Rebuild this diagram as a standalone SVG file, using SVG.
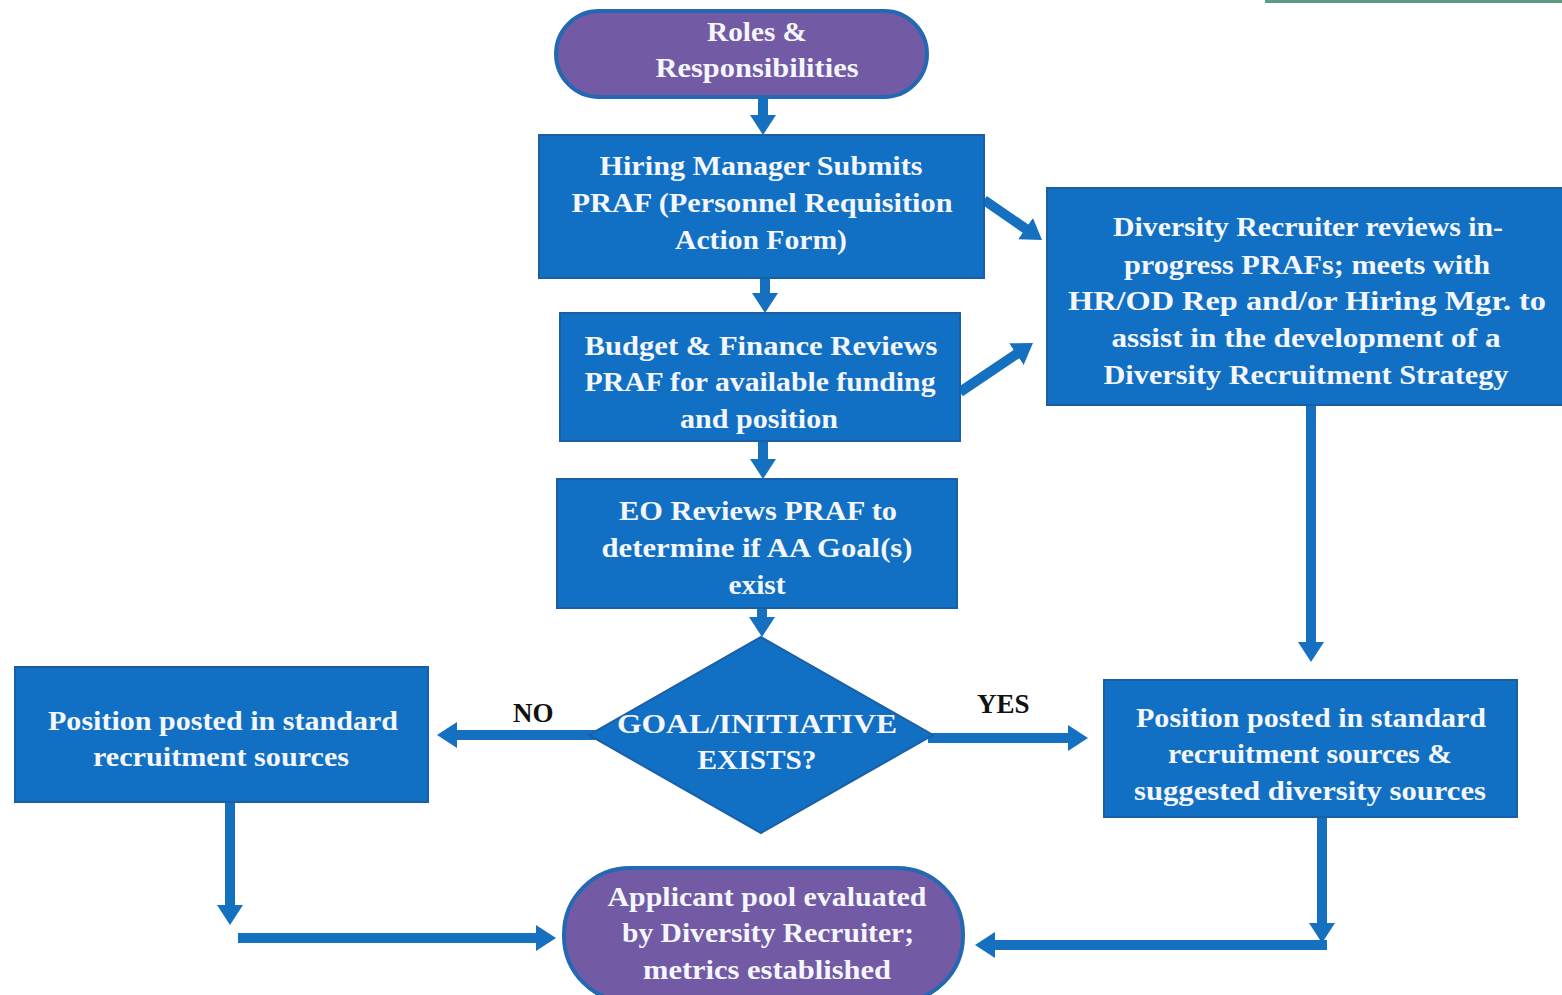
<svg xmlns="http://www.w3.org/2000/svg" width="1562" height="995" viewBox="0 0 1562 995">
<defs>
<style>
.box{fill:#1170c4;stroke:#1a5fa6;stroke-width:2}
.term{fill:#725aa5;stroke:#2468b2;stroke-width:4}
.t{font-family:"Liberation Serif","Times New Roman",serif;font-size:28px;font-weight:bold;fill:#f4f6fb;text-anchor:middle}
.lbl{font-family:"Liberation Serif","Times New Roman",serif;font-size:27px;font-weight:bold;fill:#111111}
.c{stroke:#1670c0;stroke-width:10;fill:none;marker-end:url(#ah)}
</style>
<marker id="ah" markerUnits="userSpaceOnUse" viewBox="0 0 20 26" markerWidth="20" markerHeight="26" refX="11" refY="13" orient="auto">
<path d="M0,0 L20,13 L0,26 Z" fill="#1670c0"/>
</marker>
</defs>
<rect x="0" y="0" width="1562" height="995" fill="#ffffff"/>
<rect x="1265" y="0" width="297" height="3" fill="#5a9e82"/>

<g id="connectors">
<line class="c" x1="763" y1="97" x2="763" y2="126"/>
<line class="c" x1="765" y1="278" x2="765" y2="304"/>
<line class="c" x1="763" y1="441" x2="763" y2="470"/>
<line class="c" x1="762" y1="608" x2="762" y2="628"/>
<line class="c" x1="984" y1="200" x2="1034.6" y2="234.9"/>
<line class="c" x1="960" y1="392" x2="1025.5" y2="348"/>
<line class="c" x1="1311" y1="405" x2="1311" y2="653"/>
<line class="c" x1="595" y1="735" x2="446" y2="735"/>
<line class="c" x1="928" y1="738" x2="1079" y2="738"/>
<line class="c" x1="230" y1="802" x2="230" y2="916"/>
<line class="c" x1="238" y1="938" x2="547" y2="938"/>
<line class="c" x1="1322" y1="817" x2="1322" y2="934"/>
<line class="c" x1="1327" y1="945" x2="984" y2="945"/>
</g>

<g id="n-roles">
<rect class="term" x="556" y="11" width="371" height="86" rx="43"/>
<text class="t" x="757" y="41" textLength="100" lengthAdjust="spacingAndGlyphs">Roles &amp;</text>
<text class="t" x="757" y="77" textLength="203" lengthAdjust="spacingAndGlyphs">Responsibilities</text>
</g>

<g id="n-hiring">
<rect class="box" x="539" y="135" width="445" height="143"/>
<text class="t" x="761" y="175" textLength="323" lengthAdjust="spacingAndGlyphs">Hiring Manager Submits</text>
<text class="t" x="762" y="212" textLength="381" lengthAdjust="spacingAndGlyphs">PRAF (Personnel Requisition</text>
<text class="t" x="761" y="249" textLength="172" lengthAdjust="spacingAndGlyphs">Action Form)</text>
</g>

<g id="n-budget">
<rect class="box" x="560" y="313" width="400" height="128"/>
<text class="t" x="761" y="355" textLength="353" lengthAdjust="spacingAndGlyphs">Budget &amp; Finance Reviews</text>
<text class="t" x="760" y="391" textLength="351" lengthAdjust="spacingAndGlyphs">PRAF for available funding</text>
<text class="t" x="759" y="428" textLength="158" lengthAdjust="spacingAndGlyphs">and position</text>
</g>

<g id="n-eo">
<rect class="box" x="557" y="479" width="400" height="129"/>
<text class="t" x="758" y="520" textLength="278" lengthAdjust="spacingAndGlyphs">EO Reviews PRAF to</text>
<text class="t" x="757" y="557" textLength="311" lengthAdjust="spacingAndGlyphs">determine if  AA Goal(s)</text>
<text class="t" x="757" y="594" textLength="57" lengthAdjust="spacingAndGlyphs">exist</text>
</g>

<g id="n-decision">
<polygon class="box" points="761,637 933,735 761,833 589,735"/>
<text class="t" x="757" y="733" textLength="280" lengthAdjust="spacingAndGlyphs">GOAL/INITIATIVE</text>
<text class="t" x="757" y="769" textLength="119" lengthAdjust="spacingAndGlyphs">EXISTS?</text>
</g>

<g id="n-diversity">
<rect class="box" x="1047" y="188" width="520" height="217"/>
<text class="t" x="1308" y="236" textLength="390" lengthAdjust="spacingAndGlyphs">Diversity Recruiter reviews in-</text>
<text class="t" x="1307" y="274" textLength="366" lengthAdjust="spacingAndGlyphs">progress PRAFs; meets with</text>
<text class="t" x="1307" y="310" textLength="478" lengthAdjust="spacingAndGlyphs">HR/OD Rep and/or Hiring  Mgr. to</text>
<text class="t" x="1306" y="347" textLength="389" lengthAdjust="spacingAndGlyphs">assist in the development of a</text>
<text class="t" x="1306" y="384" textLength="405" lengthAdjust="spacingAndGlyphs">Diversity Recruitment  Strategy</text>
</g>

<g id="n-left">
<rect class="box" x="15" y="667" width="413" height="135"/>
<text class="t" x="223" y="730" textLength="350" lengthAdjust="spacingAndGlyphs">Position posted in standard</text>
<text class="t" x="221" y="766" textLength="256" lengthAdjust="spacingAndGlyphs">recruitment sources</text>
</g>

<g id="n-right">
<rect class="box" x="1104" y="680" width="413" height="137"/>
<text class="t" x="1311" y="727" textLength="350" lengthAdjust="spacingAndGlyphs">Position posted in standard</text>
<text class="t" x="1310" y="763" textLength="284" lengthAdjust="spacingAndGlyphs">recruitment sources &amp;</text>
<text class="t" x="1310" y="800" textLength="352" lengthAdjust="spacingAndGlyphs">suggested diversity sources</text>
</g>

<g id="n-applicant">
<rect class="term" x="564" y="868" width="399" height="134" rx="66"/>
<text class="t" x="767" y="906" textLength="319" lengthAdjust="spacingAndGlyphs">Applicant pool evaluated</text>
<text class="t" x="768" y="942" textLength="292" lengthAdjust="spacingAndGlyphs">by Diversity Recruiter;</text>
<text class="t" x="767" y="979" textLength="248" lengthAdjust="spacingAndGlyphs">metrics established</text>
</g>

<g id="labels">
<text class="lbl" x="513" y="722">NO</text>
<text class="lbl" x="977" y="713">YES</text>
</g>
</svg>
